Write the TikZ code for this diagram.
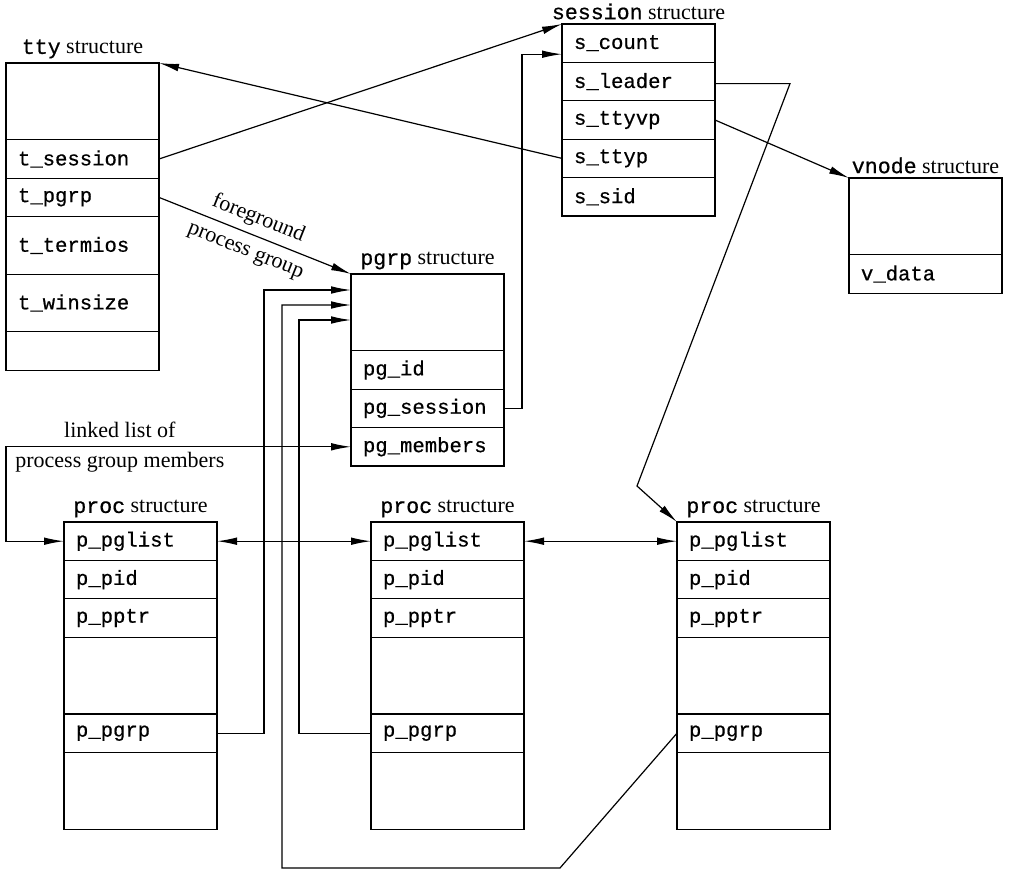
\documentclass[tikz,border=0pt]{standalone}
\usepackage{fontspec}
\setmainfont{Liberation Serif}
\setmonofont{Liberation Mono}[FakeBold=0.6,AutoFakeBold=0.6]
\usetikzlibrary{positioning,arrows.meta}

\begin{document}
\begin{tikzpicture}[x=0.5pt,y=-0.5pt,line width=0.6pt,
    font=\fontsize{11}{14}\selectfont,
    fld/.style={draw, outer sep=0pt, inner xsep=6pt, inner ysep=0pt,
        text width=64.5pt, align=left, minimum height=19.2pt,
        font=\fontsize{10.3}{12}\selectfont\ttfamily\bfseries},
    gap/.style={fld, minimum height=38.4pt},
    half/.style={fld, minimum height=28.8pt},
    ttl/.style={above, inner sep=2pt},
    ptr/.style={-{Latex[length=10pt,width=3.8pt]}},
    dptr/.style={{Latex[length=10pt,width=3.8pt]}-{Latex[length=10pt,width=3.8pt]}}]

\useasboundingbox (0,0) rectangle (1009,873);

% tty
\node[gap, anchor=north west] (tty-top) at (6,63) {};
\node[fld, below=0pt of tty-top] (tty-sess) {t\_session};
\node[fld, below=0pt of tty-sess] (tty-pgrp) {t\_pgrp};
\node[half, below=0pt of tty-pgrp] (tty-term) {t\_termios};
\node[half, below=0pt of tty-term] (tty-win) {t\_winsize};
\node[fld, below=0pt of tty-win] (tty-end) {};
\node[ttl] (tty-ttl) at (tty-top.north) {{\fontsize{10.8}{12}\selectfont\ttfamily\bfseries tty} structure};

% session
\node[fld, anchor=north west] (ses-cnt) at (562,24) {s\_count};
\node[fld, below=0pt of ses-cnt] (ses-lead) {s\_leader};
\node[fld, below=0pt of ses-lead] (ses-vp) {s\_ttyvp};
\node[fld, below=0pt of ses-vp] (ses-ttyp) {s\_ttyp};
\node[fld, below=0pt of ses-ttyp] (ses-sid) {s\_sid};
\node[ttl] (ses-ttl) at (ses-cnt.north) {{\fontsize{10.8}{12}\selectfont\ttfamily\bfseries session} structure};

% vnode
\node[gap, anchor=north west] (vn-top) at (849,178) {};
\node[fld, below=0pt of vn-top] (vn-data) {v\_data};
\node[ttl] (vn-ttl) at (vn-top.north) {{\fontsize{10.8}{12}\selectfont\ttfamily\bfseries vnode} structure};

% pgrp
\node[gap, anchor=north west] (pg-top) at (351,274) {};
\node[fld, below=0pt of pg-top] (pg-id) {pg\_id};
\node[fld, below=0pt of pg-id] (pg-sess) {pg\_session};
\node[fld, below=0pt of pg-sess] (pg-mem) {pg\_members};
\node[ttl] (pg-ttl) at (pg-top.north) {{\fontsize{10.8}{12}\selectfont\ttfamily\bfseries pgrp} structure};

% proc
\foreach \i/\x in {1/64,2/371,3/677} {
    \node[fld, anchor=north west] (p\i-pglist) at (\x,522) {p\_pglist};
    \node[fld, below=0pt of p\i-pglist] (p\i-pid) {p\_pid};
    \node[fld, below=0pt of p\i-pid] (p\i-pptr) {p\_pptr};
    \node[gap, below=0pt of p\i-pptr] (p\i-mid) {};
    \node[fld, below=0pt of p\i-mid] (p\i-pgrp) {p\_pgrp};
    \node[gap, below=0pt of p\i-pgrp] (p\i-end) {};
    \node[ttl] (p\i-ttl) at (p\i-pglist.north) {{\fontsize{10.8}{12}\selectfont\ttfamily\bfseries proc} structure};
}

\coordinate (kink) at (637,486);
\coordinate (bend) at (560,868);

% pointers
\draw[ptr] (tty-sess.east) -- (ses-cnt.north west);
\draw[ptr] (ses-ttyp.west) -- (tty-top.north east);
\draw[ptr] (tty-pgrp.east) -- node[sloped, align=center, pos=0.485]
    {foreground\\[3pt]process group} (pg-top.north west);
\draw[ptr] (pg-sess.east) -- ++(18,0) |- ([yshift=-5.5pt]ses-cnt.west);
\draw[ptr] (ses-vp.east) -- (vn-top.north west);
\draw[ptr] (ses-lead.east) ++(0,2) -- ++(75,0) -- (kink) -- (p3-pglist.north west);

\draw[dptr] (p1-pglist.west) -- ++(-58,0) |- node[pos=0.665, align=center]
    {linked list of\\[1pt]process group members} (pg-mem.west);
\draw[dptr] (p1-pglist.east) -- (p2-pglist.west);
\draw[dptr] (p2-pglist.east) -- (p3-pglist.west);

\draw[ptr] (p1-pgrp.east) -- ++(47,0) |- ([yshift=-8pt]pg-top.north west);
\draw[ptr] (p2-pgrp.west) -- ++(-72,0) |- ([yshift=-23pt]pg-top.north west);
\draw[ptr] (p3-pgrp.west) -- (bend) -- ++(-278,0) |- ([yshift=-15.5pt]pg-top.north west);
\end{tikzpicture}
\end{document}
